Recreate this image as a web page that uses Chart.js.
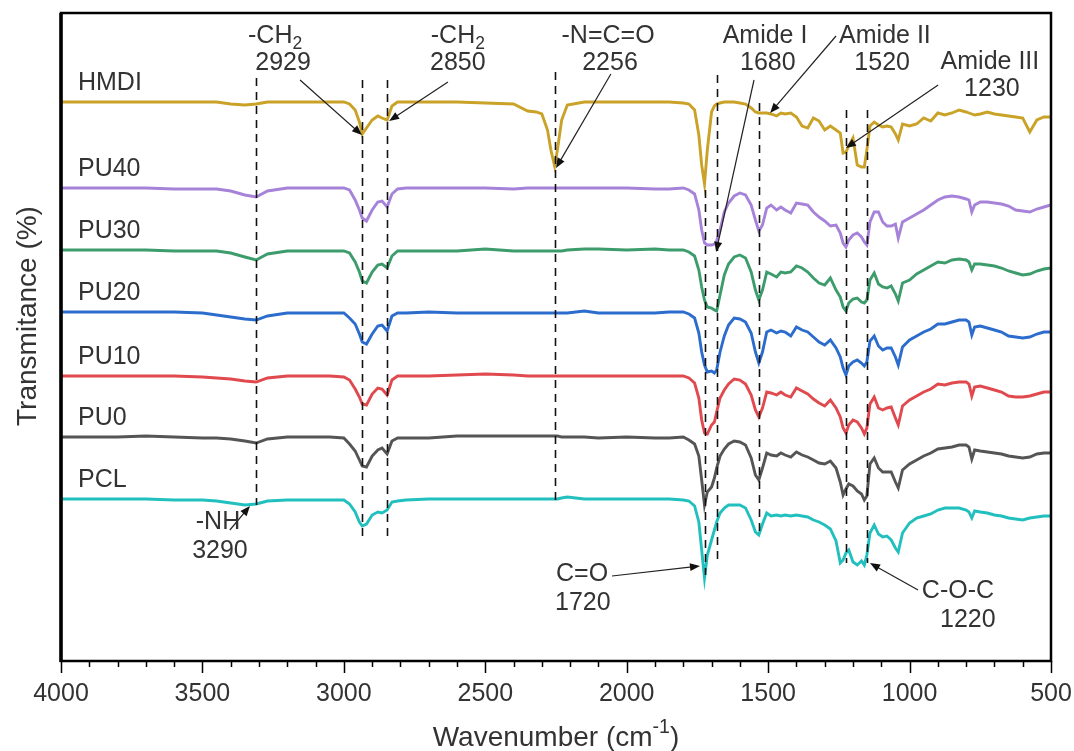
<!DOCTYPE html>
<html>
<head>
<meta charset="utf-8">
<title>FTIR spectra</title>
<script src="https://cdn.jsdelivr.net/npm/chart.js@4/dist/chart.umd.min.js"></script>
<style>
  html, body { margin: 0; padding: 0; background: #fff; }
</style>
</head>
<body>
<canvas id="ftir-chart" width="1074" height="751"></canvas>
<script>
// wavenumber grid (cm-1) shared by every trace
const wavenumbers = [
  4000, 3900, 3800, 3700, 3600, 3500, 3450, 3400, 3350, 3310,
  3270, 3200, 3100, 3050, 3000, 2980, 2960, 2945, 2935, 2920,
  2900, 2880, 2865, 2847, 2830, 2810, 2780, 2700, 2600, 2500,
  2400, 2350, 2320, 2300, 2280, 2268, 2255, 2245, 2230, 2210,
  2150, 2100, 2000, 1900, 1850, 1800, 1780, 1760, 1745, 1735,
  1725, 1715, 1700, 1690, 1682, 1670, 1655, 1640, 1620, 1600,
  1580, 1560, 1545, 1533, 1520, 1505, 1490, 1470, 1455, 1440,
  1420, 1400, 1380, 1360, 1340, 1320, 1300, 1280, 1260, 1245,
  1235, 1225, 1215, 1200, 1185, 1170, 1160, 1151, 1140, 1125,
  1110, 1095, 1080, 1065, 1050, 1040, 1025, 1000, 975, 950,
  925, 900, 875, 850, 825, 800, 790, 780, 770, 750,
  725, 700, 675, 650, 625, 600, 575, 550, 525, 500
];

const tickLabels = [4000, 3500, 3000, 2500, 2000, 1500, 1000, 500];

const seriesNames = ['HMDI', 'PU40', 'PU30', 'PU20', 'PU10', 'PU0', 'PCL'];
const seriesColors = ['#c9a227', '#a683d8', '#3d9c6b', '#2b6ccc', '#e0494d', '#555555', '#22bfbf'];

// stacked transmittance (arbitrary units, each trace offset)
const hmdi = [
  559, 559, 559, 559, 559, 559, 559, 557, 556, 557,
  559, 559, 559, 559, 559, 557, 551, 539, 527, 533,
  541, 545, 543, 541, 555, 559, 559, 559, 559, 558,
  557, 550, 549, 547, 531, 511, 495, 511, 541, 556,
  559, 559, 559, 559, 559, 558, 557, 551, 526, 496,
  477, 511, 549, 555, 557, 558, 559, 559, 559, 558,
  557, 553, 549, 548, 548, 548, 547, 545, 548, 547,
  548, 544, 535, 533, 543, 540, 531, 535, 531, 528,
  508, 509, 515, 523, 496, 494, 494, 511, 535, 539,
  536, 534, 535, 534, 527, 521, 537, 535, 537, 543,
  540, 548, 546, 548, 551, 549, 548, 547, 546, 547,
  549, 547, 546, 545, 544, 543, 529, 541, 544, 544
];
const pu40 = [
  473, 473, 473, 473, 472, 472, 472, 470, 466, 464,
  470, 473, 473, 473, 473, 471, 461, 451, 443, 440,
  451, 459, 460, 454, 467, 472, 473, 473, 473, 473,
  472, 473, 473, 473, 473, 473, 473, 473, 473, 473,
  473, 473, 473, 472, 472, 473, 471, 467, 451, 431,
  418, 416, 416, 417, 420, 431, 449, 458, 465, 468,
  466, 456, 441, 430, 436, 453, 456, 451, 454, 451,
  448, 458, 457, 456, 449, 444, 440, 435, 436, 428,
  418, 414, 421, 426, 428, 424, 419, 416, 439, 449,
  449, 439, 435, 435, 437, 423, 439, 443, 447, 451,
  456, 461, 464, 465, 464, 462, 461, 449, 456, 459,
  459, 458, 457, 455, 451, 450, 449, 452, 454, 456
];
const pu30 = [
  411, 411, 411, 411, 410, 410, 410, 408, 404, 401,
  407, 410, 410, 410, 410, 408, 399, 389, 380, 378,
  389, 396, 397, 393, 405, 410, 410, 410, 410, 412,
  410, 410, 410, 410, 410, 410, 410, 410, 410, 411,
  412, 412, 411, 412, 411, 411, 409, 405, 391, 374,
  361, 354, 353, 351, 350, 366, 386, 397, 404, 406,
  403, 389, 371, 361, 371, 389, 387, 384, 389, 388,
  389, 395, 393, 389, 383, 378, 376, 383, 371, 364,
  354, 350, 358, 362, 363, 359, 358, 361, 381, 388,
  377, 374, 373, 375, 367, 360, 378, 381, 387, 391,
  395, 399, 398, 401, 402, 401, 399, 391, 397, 397,
  396, 395, 393, 390, 388, 386, 387, 390, 392, 393
];
const pu20 = [
  349, 349, 349, 349, 349, 348, 346, 344, 342, 341,
  345, 348, 348, 348, 348, 343, 337, 327, 319, 317,
  327, 335, 336, 330, 345, 348, 348, 349, 348, 348,
  348, 348, 348, 348, 348, 348, 348, 348, 348, 348,
  350, 348, 348, 348, 349, 349, 347, 343, 328, 309,
  296, 289, 290, 288, 291, 309, 325, 336, 343, 342,
  339, 328, 309, 298, 309, 329, 331, 328, 330, 329,
  325, 334, 331, 329, 324, 319, 316, 321, 313, 304,
  293, 286, 295, 299, 301, 298, 295, 299, 320, 325,
  315, 311, 313, 313, 304, 296, 314, 321, 325, 329,
  332, 337, 337, 339, 341, 341, 339, 326, 334, 335,
  333, 331, 329, 325, 324, 323, 324, 327, 329, 329
];
const pu10 = [
  285, 285, 285, 285, 285, 284, 283, 282, 280, 279,
  283, 285, 285, 285, 284, 281, 272, 264, 257, 256,
  267, 273, 272, 266, 281, 285, 285, 285, 286, 287,
  286, 285, 285, 285, 285, 285, 285, 285, 285, 285,
  285, 285, 285, 285, 285, 285, 283, 278, 263, 241,
  228, 227, 236, 239, 249, 263, 271, 277, 282, 281,
  277, 266, 251, 244, 253, 269, 268, 266, 269, 266,
  264, 273, 270, 267, 262, 258, 255, 261, 253, 244,
  233, 228, 236, 241, 239, 233, 227, 233, 257, 264,
  253, 251, 253, 254, 243, 236, 255, 261, 265, 269,
  272, 277, 276, 278, 279, 279, 277, 265, 274, 275,
  273, 271, 269, 265, 264, 264, 265, 267, 269, 269
];
const pu0 = [
  224, 224, 224, 225, 224, 223, 223, 222, 220, 218,
  222, 224, 224, 224, 223, 217, 210, 201, 195, 194,
  205, 211, 213, 207, 220, 223, 223, 223, 225, 225,
  225, 225, 225, 225, 225, 225, 225, 225, 224, 224,
  224, 223, 224, 223, 223, 224, 221, 217, 205, 181,
  156, 169, 174, 183, 193, 205, 212, 217, 220, 219,
  216, 203, 186, 181, 193, 208, 206, 205, 208, 206,
  204, 209, 206, 204, 201, 198, 197, 200, 193, 179,
  166, 172, 177, 175, 170, 167, 161, 165, 197, 203,
  193, 189, 189, 189, 179, 173, 191, 197, 201, 205,
  208, 212, 213, 214, 216, 216, 214, 202, 211, 210,
  209, 208, 207, 205, 204, 203, 204, 207, 208, 208
];
const pcl = [
  162, 162, 162, 162, 161, 161, 160, 158, 156, 157,
  160, 161, 161, 161, 161, 157, 149, 139, 135, 137,
  146, 149, 148, 151, 159, 160, 161, 162, 162, 162,
  162, 162, 162, 162, 162, 162, 162, 162, 163, 164,
  162, 162, 162, 162, 162, 161, 160, 155, 139, 111,
  83, 106, 121, 131, 139, 148, 153, 156, 156, 156,
  153, 141, 129, 126, 137, 148, 145, 146, 145, 146,
  145, 146, 145, 144, 141, 139, 136, 132, 120, 98,
  101, 108, 111, 99, 96, 100, 96, 106, 128, 136,
  127, 124, 125, 121, 113, 109, 128, 138, 143, 145,
  147, 151, 153, 153, 153, 151, 149, 143, 150, 149,
  148, 146, 145, 143, 142, 141, 143, 144, 145, 145
];
const seriesValues = [hmdi, pu40, pu30, pu20, pu10, pu0, pcl];

// dashed guides at the assigned bands: position and vertical extent
const guideLines = [
  { wn: 3310, top: 583, bottom: 156 },
  { wn: 2935, top: 581, bottom: 121 },
  { wn: 2847, top: 581, bottom: 121 },
  { wn: 2255, top: 589, bottom: 156 },
  { wn: 1725, top: 471, bottom: 86 },
  { wn: 1682, top: 586, bottom: 101 },
  { wn: 1533, top: 558, bottom: 126 },
  { wn: 1225, top: 551, bottom: 98 },
  { wn: 1151, top: 551, bottom: 98 }
];

// band labels; each part is [text, shift] with shift 1 = subscript
const bandNotes = [
  { parts: [['-CH', 0], ['2', 1]], wn: 3243, v: 625 },
  { parts: [['2929', 0]], wn: 3215, v: 598 },
  { parts: [['-CH', 0], ['2', 1]], wn: 2597, v: 625 },
  { parts: [['2850', 0]], wn: 2597, v: 598 },
  { parts: [['-N=C=O', 0]], wn: 2066, v: 625 },
  { parts: [['2256', 0]], wn: 2059, v: 598 },
  { parts: [['Amide I', 0]], wn: 1511, v: 625 },
  { parts: [['1680', 0]], wn: 1501, v: 598 },
  { parts: [['Amide II', 0]], wn: 1087, v: 625 },
  { parts: [['1520', 0]], wn: 1097, v: 598 },
  { parts: [['Amide III', 0]], wn: 716, v: 599 },
  { parts: [['1230', 0]], wn: 709, v: 572 },
  { parts: [['-NH', 0]], wn: 3445, v: 139 },
  { parts: [['3290', 0]], wn: 3438, v: 110 },
  { parts: [['C=O', 0]], wn: 2158, v: 87 },
  { parts: [['1720', 0]], wn: 2155, v: 58 },
  { parts: [['C-O-C', 0]], wn: 829, v: 70 },
  { parts: [['1220', 0]], wn: 794, v: 41 }
];

// pointers from the labels to the bands: [wn, value]
const pointers = [
  { from: [3155, 581], to: [2936, 526] },
  { from: [2632, 579], to: [2840, 540] },
  { from: [2056, 587], to: [2250, 493] },
  { from: [1550, 581], to: [1684, 409] },
  { from: [1260, 625], to: [1493, 548] },
  { from: [899, 576], to: [1225, 513] },
  { from: [3403, 131], to: [3332, 155] },
  { from: [2052, 85], to: [1741, 95] },
  { from: [970, 71], to: [1140, 98] }
];

const FONT = '"Liberation Sans", Arial, sans-serif';
const TEXT = '#333333';

function drawParts(ctx, parts, cx, cy, size, align) {
  const widths = parts.map(([t, s]) => {
    ctx.font = (s ? size * 0.7 : size) + 'px ' + FONT;
    return ctx.measureText(t).width;
  });
  const total = widths.reduce((a, b) => a + b, 0);
  let x = align === 'left' ? cx : cx - total / 2;
  ctx.textAlign = 'left';
  ctx.textBaseline = 'middle';
  parts.forEach(([t, s], i) => {
    ctx.font = (s ? size * 0.7 : size) + 'px ' + FONT;
    const dy = s === 1 ? size * 0.32 : s === -1 ? -size * 0.38 : 0;
    ctx.fillText(t, x, cy + dy);
    x += widths[i];
  });
}

function drawArrow(ctx, x0, y0, x1, y1) {
  const ang = Math.atan2(y1 - y0, x1 - x0);
  const len = 10, half = 4;
  ctx.beginPath();
  ctx.moveTo(x0, y0);
  ctx.lineTo(x1 - Math.cos(ang) * len * 0.8, y1 - Math.sin(ang) * len * 0.8);
  ctx.stroke();
  ctx.beginPath();
  ctx.moveTo(x1, y1);
  ctx.lineTo(x1 - Math.cos(ang) * len - Math.sin(ang) * half, y1 - Math.sin(ang) * len + Math.cos(ang) * half);
  ctx.lineTo(x1 - Math.cos(ang) * len + Math.sin(ang) * half, y1 - Math.sin(ang) * len - Math.cos(ang) * half);
  ctx.closePath();
  ctx.fill();
}

const annotate = {
  id: 'annotate',
  afterDatasetsDraw(chart) {
    const { ctx, scales: { x, y } } = chart;
    ctx.save();

    // dashed band guides
    ctx.strokeStyle = '#111';
    ctx.lineWidth = 1.6;
    ctx.setLineDash([8, 6]);
    guideLines.forEach(g => {
      const px = Math.round(x.getPixelForValue(g.wn)) + 0.5;
      ctx.beginPath();
      ctx.moveTo(px, y.getPixelForValue(g.top));
      ctx.lineTo(px, y.getPixelForValue(g.bottom));
      ctx.stroke();
    });
    ctx.setLineDash([]);

    // pointers
    ctx.strokeStyle = '#222';
    ctx.fillStyle = '#111';
    ctx.lineWidth = 1.2;
    pointers.forEach(p => {
      drawArrow(ctx,
        x.getPixelForValue(p.from[0]), y.getPixelForValue(p.from[1]),
        x.getPixelForValue(p.to[0]), y.getPixelForValue(p.to[1]));
    });

    // band labels
    ctx.fillStyle = TEXT;
    bandNotes.forEach(n => {
      drawParts(ctx, n.parts, x.getPixelForValue(n.wn), y.getPixelForValue(n.v), 25);
    });

    // sample names above each trace
    seriesNames.forEach((name, i) => {
      drawParts(ctx, [[name, 0]], x.getPixelForValue(3940),
        y.getPixelForValue(seriesValues[i][0]) - 19, 25, 'left');
    });
    ctx.restore();
  },
  afterDraw(chart) {
    const { ctx, chartArea: a, scales: { x } } = chart;
    ctx.save();
    ctx.strokeStyle = '#000';
    ctx.lineWidth = 1.5;
    x.ticks.forEach(t => {
      const px = Math.round(x.getPixelForValue(t.value)) + 0.5;
      const len = tickLabels.includes(t.value) ? 12 : 6;
      ctx.beginPath();
      ctx.moveTo(px, a.bottom);
      ctx.lineTo(px, a.bottom + len);
      ctx.stroke();
    });
    ctx.lineWidth = 2.5;
    ctx.strokeRect(a.left, a.top, a.right - a.left, a.bottom - a.top);
    // heavier left spine
    ctx.lineWidth = 3.5;
    ctx.beginPath();
    ctx.moveTo(a.left, a.top);
    ctx.lineTo(a.left, a.bottom + 1);
    ctx.stroke();

    // axis titles
    ctx.fillStyle = TEXT;
    drawParts(ctx, [['Wavenumber (cm', 0], ['-1', -1], [')', 0]],
      (a.left + a.right) / 2, a.bottom + 77, 28);
    ctx.translate(a.left - 33, a.top + 303);
    ctx.rotate(-Math.PI / 2);
    drawParts(ctx, [['Transmitance (%)', 0]], 0, 0, 28);
    ctx.restore();
  }
};

new Chart(document.getElementById('ftir-chart'), {
  type: 'line',
  data: {
    datasets: seriesNames.map((name, i) => ({
      label: name,
      data: wavenumbers.map((w, j) => ({ x: w, y: seriesValues[i][j] })),
      borderColor: seriesColors[i],
      borderWidth: 2.9,
      pointRadius: 0,
      tension: 0,
      fill: false
    }))
  },
  options: {
    responsive: false,
    animation: false,
    events: [],
    layout: { padding: { left: 61, top: 13, right: 23, bottom: 0 } },
    plugins: { legend: { display: false }, tooltip: { enabled: false } },
    scales: {
      x: {
        type: 'linear',
        reverse: true,
        min: 500,
        max: 4000,
        grid: { display: false, drawTicks: false },
        border: { display: false },
        ticks: {
          stepSize: 100,
          autoSkip: false,
          maxRotation: 0,
          padding: 18,
          color: TEXT,
          font: { family: FONT, size: 25 },
          callback: v => tickLabels.includes(v) ? String(v) : ''
        },
        afterFit: scale => {
          // keep the plot edges at the layout padding, the end labels fit in it
          scale.height = 90;
          scale.paddingLeft = 0;
          scale.paddingRight = 0;
        }
      },
      y: {
        display: false,
        min: 0,
        max: 648
      }
    }
  },
  plugins: [annotate]
});
</script>
</body>
</html>
